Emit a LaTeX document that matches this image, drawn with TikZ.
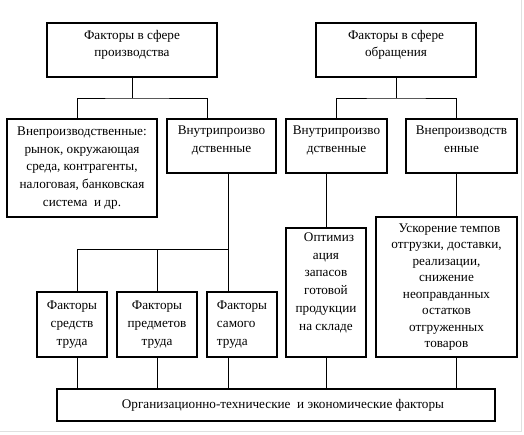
\documentclass[tikz,border=0pt]{standalone}
\usepackage{fontspec}
\setmainfont{Liberation Serif}
\newfontfamily\rusfont{Liberation Serif}
\usetikzlibrary{positioning}

\begin{document}
\begin{tikzpicture}[x=1pt,y=-1pt,font=\rusfont\fontsize{13.2}{17.8}\selectfont]
  \tikzstyle{box}=[draw,line width=1.2pt,align=center,inner sep=2pt]
  \tikzstyle{link}=[line width=1pt]
  \useasboundingbox (0,0) rectangle (524,434);
  % top level
  \node[box,minimum width=170pt,minimum height=54pt,text depth=13pt] (prod) at (132,50) {Факторы в сфере\\производства};
  \node[box,minimum width=160pt,minimum height=54pt,text depth=13pt] (obr) at (396,50) {Факторы в сфере\\обращения};
  % second level
  \node[box,minimum width=150pt,minimum height=98pt] (vnePr) at (82,168) {Внепроизводственные:\\рынок, окружающая\\среда, контрагенты,\\налоговая, банковская\\система\ \ и др.};
  \node[box,minimum width=109pt,minimum height=54pt,text depth=13pt] (vnuPr) at (221.5,146) {Внутрипроизво\\дственные};
  \node[box,minimum width=101pt,minimum height=54pt,text depth=13pt] (vnuOb) at (336.5,146) {Внутрипроизво\\дственные};
  \node[box,minimum width=111pt,minimum height=54pt,text depth=13pt] (vneOb) at (461.5,146) {Внепроизводств\\енные};
  % third level
  \node[box,minimum width=70pt,minimum height=65pt] (sred) at (72,324.5) {Факторы\\средств\\труда};
  \node[box,minimum width=80pt,minimum height=65pt] (pred) at (157,324.5) {Факторы\\предметов\\труда};
  \node[box,align=left,minimum width=70pt,minimum height=65pt] (sam) at (242,324.5) {Факторы\\самого\\труда};
  \node[box,minimum width=80pt,minimum height=129pt,text depth=22pt] (opt) at (326,292.5) {\hspace{6pt}Оптимиз\\ация\\запасов\\готовой\\продукции\\на складе};
  \node[box,font=\rusfont\fontsize{13.2}{16.5}\selectfont,minimum width=141pt,minimum height=140pt] (usk) at (446.5,287) {\hspace{6pt}Ускорение темпов\\отгрузки, доставки,\\реализации,\\снижение\\неоправданных\\остатков\\отгруженных\\товаров};
  % bottom
  \node[box,minimum width=438pt,minimum height=32pt] (org) at (276,405) {\hspace{14pt}Организационно-технические\ \ и экономические факторы};
  % buses
  \coordinate (jt) at (0,98);
  \coordinate (jb) at (0,249);
  \draw[link] (prod.south) -- (prod.south |- jt);
  \draw[link] ([xshift=-5pt]vnePr.north) |- (prod.south |- jt) -| ([xshift=-14.5pt]vnuPr.north);
  \draw[link] (obr.south) -- (obr.south |- jt);
  \draw[link] (vnuOb.north) |- (obr.south |- jt) -| ([xshift=-5.5pt]vneOb.north);
  \draw[link] ([xshift=6.5pt]vnuPr.south) -- ([xshift=-14pt]sam.north);
  \draw[link] ([xshift=5pt]sred.north) |- ([xshift=6.5pt]vnuPr.south |- jb);
  \draw[link] (pred.north) -- (pred.north |- jb);
  \draw[link] ([xshift=-10.5pt]vnuOb.south) -- (opt.north);
  \draw[link] ([xshift=-5.5pt]vneOb.south) -- ([xshift=9.5pt]usk.north);
  % down to the bottom box
  \draw[link] ([xshift=5pt]sred.south) -- ([xshift=5pt]sred.south |- org.north);
  \draw[link] (pred.south) -- (pred.south |- org.north);
  \draw[link] ([xshift=-14pt]sam.south) -- ([xshift=-14pt]sam.south |- org.north);
  \draw[link] (opt.south) -- (opt.south |- org.north);
  \draw[link] ([xshift=9.5pt]usk.south) -- ([xshift=9.5pt]usk.south |- org.north);
  % page edge
  \draw[black!12] (521,0) -- (521,431) -- (0,431);
\end{tikzpicture}
\end{document}
